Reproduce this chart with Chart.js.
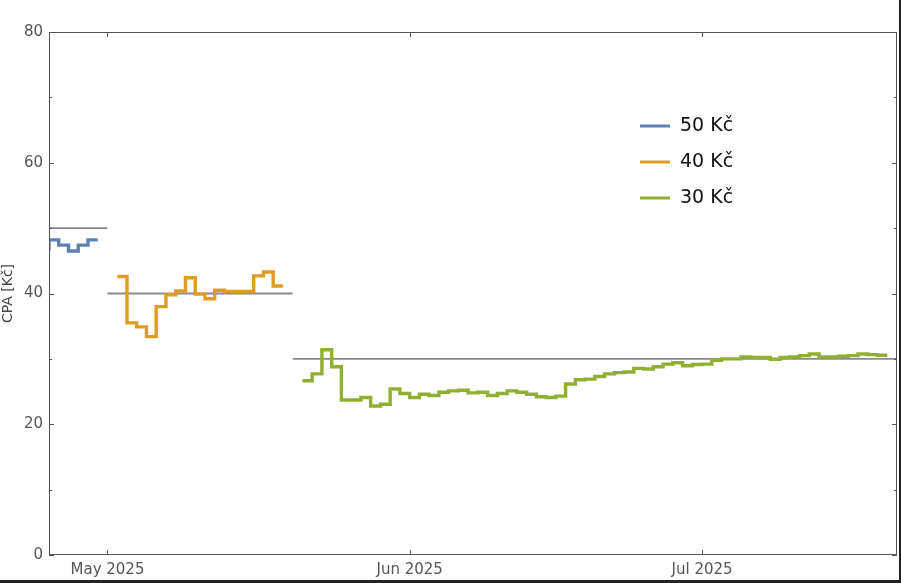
<!DOCTYPE html>
<html>
<head>
<meta charset="utf-8">
<script src="https://cdn.jsdelivr.net/npm/chart.js@4.4.0/dist/chart.umd.min.js"></script>
<style>
  html, body { margin: 0; padding: 0; background: #fff; }
  #wrap { width: 901px; height: 583px; box-sizing: border-box; border-right: 2px solid #222; border-bottom: 3px solid #222; }
  canvas { display: block; }
</style>
</head>
<body>
<div id="wrap"><canvas id="grafico" width="899" height="580"></canvas></div>
<script>
// Dados -------------------------------------------------------------------

// series names and colours
const nomes = ['50 Kč', '40 Kč', '30 Kč']
const cores = ['#5e81b5', '#e19c24', '#8fb032']

// daily CPA values, one per day starting at the given date
const inicio50 = '2025-04-24'
const cpa50 = [46.8, 48.2, 47.4, 46.5, 47.4, 48.2]

const inicio40 = '2025-05-02'
const cpa40 = [42.6, 35.5, 34.9, 33.4, 38.0, 39.8, 40.4, 42.4, 39.9, 39.2, 40.5, 40.3, 40.3, 40.3, 42.7, 43.3, 41.15]

const inicio30 = '2025-05-21'
const cpa30 = [26.65, 27.7, 31.4, 28.8, 23.7, 23.7, 24.1, 22.8, 23.05, 25.4, 24.7,
  24.1, 24.6, 24.4, 24.9, 25.1, 25.2, 24.8, 24.9, 24.4, 24.7, 25.1, 24.9, 24.6, 24.2, 24.1,
  24.3, 26.15, 26.8, 26.9, 27.3, 27.7, 27.9, 28.0, 28.55, 28.45, 28.8, 29.2, 29.4, 28.95, 29.15,
  29.2, 29.8, 30.0, 30.0, 30.3, 30.2, 30.2, 29.95, 30.2, 30.3, 30.5, 30.75, 30.3, 30.3, 30.4,
  30.5, 30.75, 30.65, 30.55]

// target CPA lines
const metas = [50, 40, 30]
const metaInicio = ['2025-04-25', '2025-05-01', '2025-05-20']
const metaFim = ['2025-05-01', '2025-05-20', '2025-07-21']

// axes
const xMin = '2025-04-25'
const xMax = '2025-07-21'
const xTickDatas = ['2025-05-01', '2025-06-01', '2025-07-01']
const xTickNomes = ['May 2025', 'Jun 2025', 'Jul 2025']

// -------------------------------------------------------------------------

function dia(s) {
  return Date.parse(s) / 86400000
}

// step series: each value holds for one day, extra end point closes the last step
function CriaPontos(inicio, valores) {
  const d0 = dia(inicio)
  let pontos = valores.map((v, i) => ({ x: d0 + i, y: v }))
  pontos.push({ x: d0 + valores.length, y: valores[valores.length - 1] })
  return pontos
}

const series = [[inicio50, cpa50], [inicio40, cpa40], [inicio30, cpa30]]

let datasets = series.map((s, i) => ({
  label: nomes[i],
  data: CriaPontos(s[0], s[1]),
  borderColor: cores[i],
  borderWidth: 3.4,
  pointRadius: 0,
  stepped: true,
  fill: false
}))

metas.forEach((m, i) => {
  datasets.push({
    label: 'meta',
    data: [{ x: dia(metaInicio[i]), y: m }, { x: dia(metaFim[i]), y: m }],
    borderColor: '#8a8a8a',
    borderWidth: 1.8,
    pointRadius: 0,
    fill: false
  })
})

// frame + inner ticks
const moldura = {
  id: 'moldura',
  afterDatasetsDraw(chart) {
    const { ctx, chartArea: a, scales } = chart
    ctx.save()
    ctx.strokeStyle = '#555'
    ctx.lineWidth = 1
    ctx.strokeRect(Math.round(a.left) + 0.5, Math.round(a.top) + 0.5,
      Math.round(a.right - a.left) - 1, Math.round(a.bottom - a.top) - 1)
    ctx.beginPath()
    for (let v = 0; v <= 80; v += 10) {
      const y = Math.round(scales.y.getPixelForValue(v)) + 0.5
      const l = v % 20 == 0 ? 5 : 3
      ctx.moveTo(a.left, y); ctx.lineTo(a.left + l, y)
      ctx.moveTo(a.right, y); ctx.lineTo(a.right - l, y)
    }
    xTickDatas.forEach(d => {
      const x = Math.round(scales.x.getPixelForValue(dia(d))) + 0.5
      ctx.moveTo(x, a.bottom); ctx.lineTo(x, a.bottom - 5)
      ctx.moveTo(x, a.top); ctx.lineTo(x, a.top + 5)
    })
    ctx.stroke()
    ctx.restore()
  }
}

// legend inside the plot
const legenda = {
  id: 'legenda',
  afterDraw(chart) {
    const ctx = chart.ctx
    ctx.save()
    ctx.font = '19px "DejaVu Sans"'
    ctx.textBaseline = 'middle'
    nomes.forEach((n, i) => {
      const y = 126 + i * 36
      ctx.strokeStyle = cores[i]
      ctx.lineWidth = 3
      ctx.beginPath()
      ctx.moveTo(640, y); ctx.lineTo(670, y)
      ctx.stroke()
      ctx.fillStyle = '#111'
      ctx.fillText(n, 680, y)
    })
    ctx.restore()
  }
}

const config = {
  type: 'line',
  data: { datasets },
  options: {
    responsive: false,
    animation: false,
    devicePixelRatio: 1,
    layout: { padding: { left: 0, right: 2, top: 32, bottom: 0 } },
    plugins: { legend: false, tooltip: false },
    scales: {
      x: {
        type: 'linear',
        min: dia(xMin),
        max: dia(xMax),
        afterBuildTicks: scale => {
          scale.ticks = xTickDatas.map(d => ({ value: dia(d) }))
        },
        afterFit: scale => { scale.height = 25 },
        ticks: {
          autoSkip: false,
          maxRotation: 0,
          padding: 6,
          color: '#555',
          font: { family: 'DejaVu Sans', size: 15 },
          callback: (v, i) => xTickNomes[i]
        },
        grid: { display: false, drawTicks: false },
        border: { display: false }
      },
      y: {
        min: 0,
        max: 80,
        afterFit: scale => { scale.width = 49 },
        ticks: {
          stepSize: 20,
          padding: 6,
          color: '#555',
          font: { family: 'DejaVu Sans', size: 15 }
        },
        grid: { display: false, drawTicks: false },
        border: { display: false },
        title: {
          display: true,
          text: 'CPA [Kč]',
          color: '#444',
          font: { family: 'DejaVu Sans', size: 14 },
          padding: { top: 0, bottom: 0 }
        }
      }
    }
  },
  plugins: [moldura, legenda]
}

const grafico = new Chart(document.getElementById('grafico').getContext('2d'), config)
</script>
</body>
</html>
